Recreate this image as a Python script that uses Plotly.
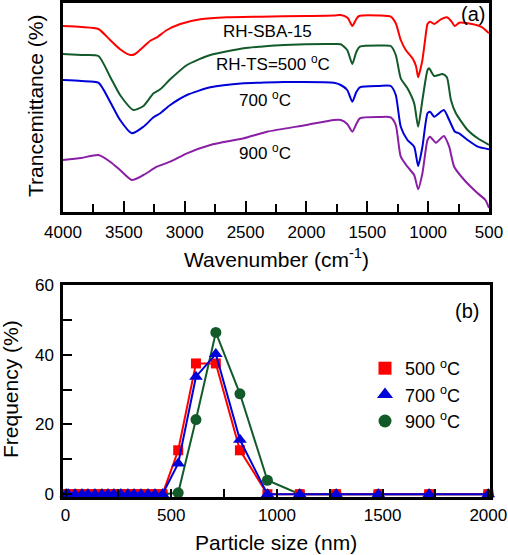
import plotly.graph_objects as go

# ---------------- (a) FTIR spectra ----------------
wn_red = [4000, 3850, 3709, 3613, 3531, 3448, 3407, 3352, 3283, 3228, 3146, 3036, 2872, 2652, 2378, 2000,
          1774, 1718, 1660, 1623, 1590, 1568, 1400, 1307, 1266, 1225, 1184, 1129, 1100, 1082, 1065, 1047,
          1025, 1005, 984, 950, 895, 846, 813, 780, 745, 676, 566, 500]
t_red = [186, 185, 183, 172, 162.7, 157, 158, 163.7, 171.3, 174.7, 182, 188, 192.7, 194.7, 195.3, 196,
         196.5, 197, 194, 186, 193, 196, 196.5, 195.3, 188.7, 172, 162, 153.7, 146, 134.7, 142, 152,
         172, 188, 190.3, 188, 192.7, 194.7, 191.3, 186, 189.3, 188.7, 185.3, 178.7]

wn_green = [4000, 3850, 3709, 3613, 3531, 3421, 3339, 3256, 3201, 3119, 2981, 2789, 2515, 2378, 2185, 1774,
            1718, 1665, 1623, 1590, 1561, 1400, 1307, 1266, 1225, 1170, 1115, 1082, 1047, 1005, 992, 950,
            882, 846, 813, 772, 676, 593, 500]
t_green = [158, 157, 156, 135.3, 117, 102, 106, 118.7, 122.7, 132.7, 147, 157, 163.7, 165.3, 167, 168,
           167.7, 162, 148, 160, 165.3, 166.5, 166, 157, 133.7, 123.7, 108.7, 85.3, 112, 142, 143.7, 136,
           138, 134.7, 112, 98.7, 82, 73.7, 67]

wn_blue = [4000, 3850, 3709, 3613, 3531, 3434, 3339, 3256, 3201, 3119, 2981, 2789, 2515, 2378, 2185, 1774,
           1718, 1665, 1623, 1590, 1561, 1400, 1307, 1266, 1225, 1170, 1115, 1082, 1047, 1005, 984, 950,
           871, 827, 780, 745, 676, 593, 500]
t_blue = [132, 131, 129.3, 110.3, 92, 78.7, 85.3, 94.7, 98.7, 107, 117, 124.7, 128.7, 129.3, 130, 129.3,
          127, 122, 110.3, 120, 124.7, 126, 126, 117, 85.3, 72, 65.3, 46, 65.3, 98.7, 100.3, 95.3,
          102, 92, 80.3, 78.7, 72, 65.3, 62.7]

wn_purple = [4000, 3850, 3709, 3613, 3531, 3434, 3339, 3228, 3119, 2981, 2789, 2515, 2323, 2000, 1774,
             1718, 1665, 1623, 1590, 1561, 1400, 1307, 1266, 1225, 1170, 1115, 1082, 1047, 1005, 984, 936,
             871, 827, 786, 703, 593, 530, 500]
t_purple = [52, 54, 57, 50.3, 42, 32, 37, 45.3, 50.3, 58.7, 67, 73.7, 80.3, 87, 92,
            92, 88, 80.3, 88, 93.7, 95, 94.7, 87, 55.3, 45.3, 37, 22.7, 38.7, 72, 75.3, 69.3,
            76, 65.3, 45.3, 32, 18.7, 12, 4]

spec_labels = ["RH-SBA-15", "RH-TS=500 <sup>o</sup>C", "700 <sup>o</sup>C", "900 <sup>o</sup>C"]
spec_label_x = [2320, 2271, 2337, 2337]
spec_label_y = [180, 149, 113, 60]

# ---------------- (b) particle size distribution ----------------
size_nm = [3, 12, 45, 78, 106, 139, 172, 201, 229, 262, 295, 324, 357, 390, 423, 459, 533, 617, 711, 825,
           955, 1108, 1280, 1480, 1720, 2000]
freq_500 = [0, 0, 0, 0, 0, 0, 0, 0, 0, 0, 0, 0, 0, 0, 0, 0, 12.6, 37.5, 37.5, 12.6, 0, 0, 0, 0, 0, 0]
freq_700 = [0, 0, 0, 0, 0, 0, 0, 0, 0, 0, 0, 0, 0, 0, 0, 0, 8.8, 33.7, 40.2, 15.6, 0, 0, 0, 0, 0, 0]
freq_900 = [0, 0, 0, 0, 0, 0, 0, 0, 0, 0, 0, 0, 0, 0, 0, 0, 0.4, 21.4, 46.4, 28.8, 4.0, 0, 0, 0, 0, 0]

FONT = "Arial, Liberation Sans, sans-serif"
RED = "#ff0000"
GREEN = "#135a2a"
BLUE = "#0000d8"
PURPLE = "#8a1fa6"

fig = go.Figure()

for wn, t, c in [(wn_red, t_red, RED), (wn_green, t_green, GREEN),
                 (wn_blue, t_blue, BLUE), (wn_purple, t_purple, PURPLE)]:
    fig.add_trace(go.Scatter(x=wn, y=t, mode="lines", line=dict(color=c, width=2, shape="spline", smoothing=0.6),
                             showlegend=False, xaxis="x", yaxis="y", hoverinfo="skip"))

# bottom panel data
fig.add_trace(go.Scatter(x=size_nm, y=freq_900, mode="lines+markers", line=dict(color=GREEN, width=2),
                         marker=dict(symbol="circle", size=11, color=GREEN), showlegend=False,
                         xaxis="x2", yaxis="y2", cliponaxis=False))
fig.add_trace(go.Scatter(x=size_nm, y=freq_500, mode="lines+markers", line=dict(color=RED, width=2),
                         marker=dict(symbol="square", size=10, color=RED), showlegend=False,
                         xaxis="x2", yaxis="y2", cliponaxis=False))
fig.add_trace(go.Scatter(x=size_nm, y=freq_700, mode="lines+markers", line=dict(color=BLUE, width=2),
                         marker=dict(symbol="triangle-up", size=12, color=BLUE), showlegend=False,
                         xaxis="x2", yaxis="y2", cliponaxis=False))

# legend-only entries (markers only)
for name, sym, c, sz in [("500 <sup>o</sup>C", "square", RED, 13), ("700 <sup>o</sup>C", "triangle-up", BLUE, 14),
                         ("900 <sup>o</sup>C", "circle", GREEN, 13)]:
    fig.add_trace(go.Scatter(x=[None], y=[None], mode="markers", name=name,
                             marker=dict(symbol=sym, size=sz, color=c), xaxis="x2", yaxis="y2"))

axis_common = dict(showline=True, linecolor="black", linewidth=2.5, mirror=True, showgrid=False,
                   zeroline=False, tickcolor="black", tickwidth=2, automargin=False)

fig.update_layout(
    width=508, height=555, margin=dict(l=0, r=0, t=0, b=0, autoexpand=False),
    paper_bgcolor="white", plot_bgcolor="white",
    font=dict(family=FONT, color="black"),
    xaxis=dict(domain=[63 / 508, 489 / 508], anchor="y", range=[4000, 500], tick0=500, dtick=500, ticklen=11,
               ticks="inside",
               minor=dict(dtick=250, ticklen=8, ticks="inside", tickcolor="black", tickwidth=2),
               tickfont=dict(size=17, family=FONT), ticklabelstandoff=3, **axis_common),
    yaxis=dict(domain=[1 - 212 / 555, 1 - 3 / 555], anchor="x", range=[0, 209], showticklabels=False,
               ticks="", **axis_common),
    xaxis2=dict(domain=[63 / 508, 490 / 508], anchor="y2", range=[-12, 2008], tick0=0, dtick=500, ticklen=8,
                ticks="inside",
                minor=dict(dtick=250, ticklen=8, ticks="inside", tickcolor="black", tickwidth=2),
                tickfont=dict(size=17, family=FONT), ticklabelstandoff=1, **axis_common),
    yaxis2=dict(domain=[1 - 497 / 555, 1 - 285 / 555], anchor="x2", range=[-0.8, 60], tickvals=[0, 20, 40, 60],
                ticklen=9, ticks="inside",
                minor=dict(dtick=10, ticklen=9, ticks="inside", tickcolor="black", tickwidth=2),
                tickfont=dict(size=17, family=FONT), ticklabelstandoff=3, **axis_common),
    legend=dict(x=365 / 508, y=1 - 350 / 555, xanchor="left", yanchor="top", bgcolor="rgba(0,0,0,0)",
                font=dict(size=18, family=FONT), itemwidth=30, tracegroupgap=0),
)

ann = []
for txt, x, y in zip(spec_labels, spec_label_x, spec_label_y):
    ann.append(dict(text=txt, x=x, y=y, xref="x", yref="y", showarrow=False, font=dict(size=17, family=FONT),
                    xanchor="center", yanchor="middle"))
ann += [
    dict(text="Wavenumber (cm<sup>-1</sup>)", x=276 / 508, y=1 - 258 / 555, xref="paper", yref="paper",
         showarrow=False, font=dict(size=21, family=FONT), xanchor="center", yanchor="middle"),
    dict(text="Trancemittance (%)", x=35 / 508, y=1 - 106 / 555, xref="paper", yref="paper", textangle=-90,
         showarrow=False, font=dict(size=21, family=FONT), xanchor="center", yanchor="middle"),
    dict(text="Particle size (nm)", x=276 / 508, y=1 - 542 / 555, xref="paper", yref="paper",
         showarrow=False, font=dict(size=21, family=FONT), xanchor="center", yanchor="middle"),
    dict(text="Frequency (%)", x=11 / 508, y=1 - 389 / 555, xref="paper", yref="paper", textangle=-90,
         showarrow=False, font=dict(size=21, family=FONT), xanchor="center", yanchor="middle"),
    dict(text="(a)", x=473 / 508, y=1 - 14 / 555, xref="paper", yref="paper",
         showarrow=False, font=dict(size=20, family=FONT), xanchor="center", yanchor="middle"),
    dict(text="(b)", x=467 / 508, y=1 - 311 / 555, xref="paper", yref="paper",
         showarrow=False, font=dict(size=20, family=FONT), xanchor="center", yanchor="middle"),
]
fig.update_layout(annotations=ann)

fig.write_html("out.html", config={"displayModeBar": False},
               post_script="document.body.style.margin='0px';document.body.style.padding='0px';")
